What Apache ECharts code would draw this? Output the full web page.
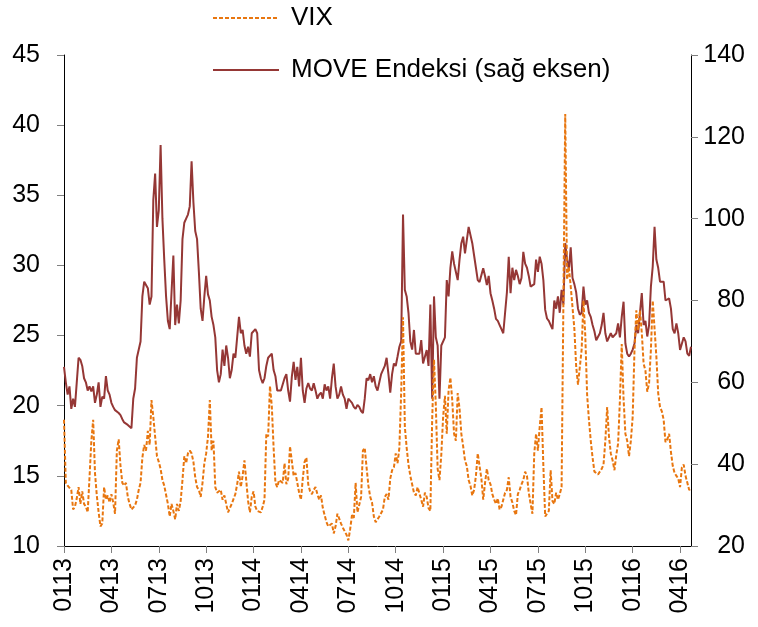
<!DOCTYPE html>
<html>
<head>
<meta charset="utf-8">
<script src="https://cdn.jsdelivr.net/npm/echarts@6/dist/echarts.min.js"></script>
<style>
html,body{margin:0;padding:0;background:#fff;}
#chart{width:758px;height:627px;}
</style>
</head>
<body>
<div id="chart"></div>
<script>
// Half-week observations, Jan 2013 .. May 2016
var tickLabels = ["0113","0413","0713","1013","0114","0414","0714","1014","0115","0415","0715","1015","0116","0416"];

var move = [
63.8,60,57,59,53.5,56,54,60,66,65.5,64,61,60,58,59,57.8,59,55,57,60,
54,56.5,56,61.5,58,57,55,54,53.2,52.8,52.5,52,51,50.2,49.8,49.6,49.4,48.8,56,58.5,
66,66,70,81,84.6,84.6,83,79,81,104.6,111,98,102,118,100,90,81,75,73,82,
91,74,79,74.4,80,95,99,100,101,103,114,104,97,95,87,78,75,81,86,81.5,
80,76,74,71,63,60,62,68,64,69,66,61,63,67,66,71,76,72,72.8,69,
67,68.7,66.3,72,72,73,72,63,61,59.8,61,64,66,66,67,63,61.5,58,58,58,
58,61,62,58,55.3,61.4,65,60.6,63.8,59,66,58,55,58.5,59.8,58.5,58,59.8,58,56,
57,57.5,56,59.5,58,59,56,61,64.6,59,56,57,59,57,56,53.5,56,56,55,54,
53.5,54.5,54,53,52.5,56,61,60.5,62,60,61.5,59,58,60,62,62,64,66,62,57.5,
62,64.6,64,66.3,68.7,70,101,82.6,81,77,70,68,72.8,67,67,67,70.3,64.6,64.6,67.9,
64,79,56,81,71,69,56,69,69,71,85,81,88,92,89,89,85,90,94,95.6,
91.5,91.5,98,98,94,91,88,85,84.5,84.5,87.9,86,83.8,86,81.8,80,78,75.5,75,74,
73,72,77,82,90.7,81.8,88,85,87.5,86,84,85.5,91.9,89,88,86,83.4,83,84,90,
87,90.7,89,85,77.7,75.6,75,74,73,80,78,81,77,82.6,79,94,90,87.5,93,85.5,
84,82,78,76.5,77,83.4,79,80,77,76,74,72.5,70.3,70.3,72,74,77,72,70,70,
72,71,71,72,74.4,71,76,79.7,69.5,67,66.3,67,68,69.5,74,72,77,81.8,74,75,
71.2,74,83.4,88.3,98,90,88,84.6,84.6,84.6,80,80,80.5,78,73,72,74.4,72,67.9,68,
71,70,67,66.5,68.7
];

var vix = [
19,14.5,14.3,14.2,14,12.6,12.8,13.4,14.2,13,13.9,13,12.8,12.4,14.9,17.5,19,15.2,13.6,12.4,
11.4,11.6,14.2,13.3,13.6,13.1,13.7,13.1,12.3,16.8,17.6,15.7,14.5,14.3,14.5,13.5,13,12.6,12.6,12.9,
13.3,14,14.5,16.3,17.2,16.8,18.2,17.2,20.4,19.2,17.8,16.4,16,15.5,14.7,14.3,14.2,13,12.1,13,
12.5,11.9,13,12.5,13.2,14.7,16.4,15.9,16.6,16.8,16.6,16,14.9,14.2,14,13.5,14.5,15.9,16.6,17.8,
20.4,16.8,17.5,14.2,13.8,13.9,14,13.3,13.6,13,12.4,12.5,13,13.1,13.7,14.4,15.3,14.2,15,16.1,
16.2,13.2,12.4,13.5,13.9,12.8,12.5,12.5,12.4,12.8,13.3,18,17.8,21.4,20,17,14.5,14.2,14.7,14.8,
14.5,15.9,14.4,14.8,17.1,17,15,15.2,14.5,13.8,13.3,14.8,16,16.3,14.4,13.9,13.7,14,14.2,13.7,
13.3,13.6,12.7,12.6,11.7,11.4,11.5,11.6,10.9,11.4,12.3,12.4,11.6,11.3,11.2,10.8,10.4,11.2,12.2,12,
14.5,12.4,12.3,13.5,16.8,17,15.6,14.3,13.5,13.1,12.1,11.7,11.8,12.1,12.2,12.6,13.5,13.7,13.3,14.8,
15.4,15.6,16.6,15.9,17,21,26.3,18.5,17,15.8,15,14.9,13.8,13.6,14.2,14.1,13.3,12.8,13.8,13.5,
12.7,12.5,19,23.3,20,15.5,14.7,16.5,19.2,20.7,18,21.1,22,20.4,18,17.5,20.9,19.8,18,17.1,
16.1,15.7,14.7,14.3,13.6,14,15,16.6,16.5,14.8,13.3,14.5,15.5,14.7,14.4,13.7,13.3,13,13.4,12.6,
12.8,13.3,13.8,14,14.9,13.5,13.1,12.5,12.2,13.7,14,14.4,14.7,15.3,15,13.8,13,12.3,16.6,18,
16.8,18.5,19.9,15.7,12.1,12.3,12.5,15.4,13.2,13,13.8,13.3,13.7,14.2,27.5,40.8,29,29.9,28.5,27,
25.5,22.8,21.5,21.5,24,27.5,25,20.8,19,17.5,16.3,15.3,15.3,15.1,15.2,15.5,15.8,17.5,19.9,17.8,
16.6,16.1,15.4,16.5,17.3,20.4,24.4,20.5,18,17.5,16.4,17.5,19.2,24,26.8,25.4,26.8,25.2,23,22.5,
21,21.6,24,27.5,27.5,23.5,20.9,19.9,19.6,19,17.4,17.6,18,16.7,15.7,15.2,15,14.8,14.2,15.6,
15.8,15,14.5,14,14.1
];

var categories = move.map(function (_, k) { return String(k); });

var FONT = "'Liberation Sans', Arial, sans-serif";
var chart = echarts.init(document.getElementById('chart'), null, {renderer: 'canvas'});
chart.setOption({
  animation: false,
  backgroundColor: '#fff',
  textStyle: {fontFamily: FONT},
  legend: {
    orient: 'vertical',
    left: 212,
    top: 5,
    padding: 0,
    itemWidth: 66,
    itemHeight: 14,
    itemGap: 26,
    itemStyle: {opacity: 0},
    data: ['VIX', 'MOVE Endeksi (sağ eksen)'],
    textStyle: {fontSize: 26, color: '#000', fontFamily: FONT, lineHeight: 26, padding: [0, 0, 0, 7]}
  },
  grid: {left: 64, right: 67, top: 55, bottom: 81, containLabel: false},
  xAxis: {
    type: 'category',
    data: categories,
    boundaryGap: false,
    axisLine: {show: true, lineStyle: {color: '#000', width: 1}},
    axisTick: {show: true, interval: 25, length: 7, lineStyle: {color: '#808080'}},
    axisLabel: {
      interval: 25,
      rotate: 90,
      margin: 12,
      fontSize: 25,
      color: '#000',
      fontFamily: FONT,
      formatter: function (v, idx) { return tickLabels[Math.round(idx / 26)] || ''; }
    },
    splitLine: {show: false}
  },
  yAxis: [
    {
      type: 'value', min: 10, max: 45, interval: 5, position: 'left',
      axisLine: {show: true, lineStyle: {color: '#000', width: 1}},
      axisTick: {show: true, length: 7, lineStyle: {color: '#808080'}},
      axisLabel: {fontSize: 25, color: '#000', margin: 24, fontFamily: FONT},
      splitLine: {show: false}
    },
    {
      type: 'value', min: 20, max: 140, interval: 20, position: 'right',
      axisLine: {show: true, lineStyle: {color: '#000', width: 1}},
      axisTick: {show: true, length: 7, lineStyle: {color: '#808080'}},
      axisLabel: {fontSize: 25, color: '#000', margin: 54, align: 'right', fontFamily: FONT},
      splitLine: {show: false}
    }
  ],
  series: [
    {
      name: 'MOVE Endeksi (sağ eksen)', type: 'line', yAxisIndex: 1, data: move,
      symbol: 'none', z: 2,
      lineStyle: {color: '#953735', width: 2}, itemStyle: {color: '#953735'}
    },
    {
      name: 'VIX', type: 'line', yAxisIndex: 0, data: vix,
      symbol: 'none', z: 3,
      lineStyle: {color: '#E8760F', width: 2, type: [4, 2]}, itemStyle: {color: '#E8760F'}
    }
  ]
});
</script>
</body>
</html>
